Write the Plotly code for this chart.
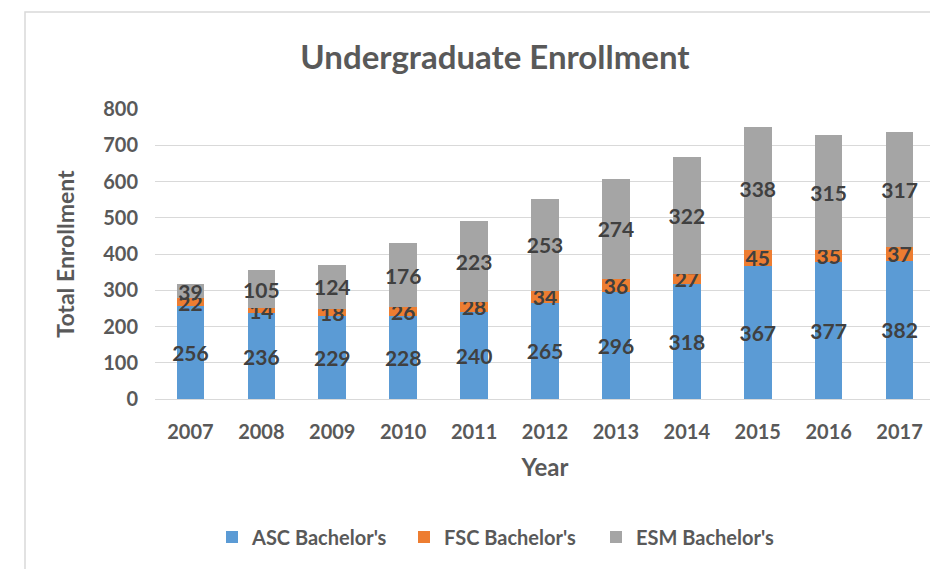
import plotly.graph_objects as go

years = ["2007", "2008", "2009", "2010", "2011", "2012", "2013", "2014", "2015", "2016", "2017"]
asc = [256, 236, 229, 228, 240, 265, 296, 318, 367, 377, 382]
fsc = [22, 14, 18, 26, 28, 34, 36, 27, 45, 35, 37]
esm = [39, 105, 124, 176, 223, 253, 274, 322, 338, 315, 317]

series = [
    ("ASC Bachelor's", asc, "#5B9BD5"),
    ("FSC Bachelor's", fsc, "#ED7D31"),
    ("ESM Bachelor's", esm, "#A5A5A5"),
]

FONT = "Lato, 'Open Sans', sans-serif"

fig = go.Figure()
for name, vals, color in series:
    fig.add_trace(go.Bar(
        x=years, y=vals, name=name,
        marker=dict(color=color, line=dict(width=0)),
        text=[str(v) for v in vals],
        textposition="inside",
        insidetextanchor="middle",
        constraintext="none",
        textangle=0,
        insidetextfont=dict(family=FONT, size=21, color="#404040", weight="bold"),
    ))

# page offset (body margin) compensation
OFF = 8
W, H = 938, 569
L, R, T, B = 155 - OFF, 11, 109 - OFF, 569 - (399 - OFF)
pw = W - L - R
ph = H - T - B

def px(x):
    return (x - OFF - L) / pw

def py(y):
    return (H - B - (y - OFF)) / ph

fig.update_layout(
    width=W, height=H,
    barmode="stack",
    bargap=0.61,
    paper_bgcolor="white",
    plot_bgcolor="white",
    margin=dict(l=L, r=R, t=T, b=B, autoexpand=False),
    font=dict(family=FONT, color="#595959"),
    title=dict(
        text="<b>Undergraduate Enrollment</b>",
        font=dict(family=FONT, size=33, color="#595959"),
        x=(495 - OFF) / W, xanchor="center",
        y=1 - (57 - OFF) / H, yanchor="middle",
    ),
    xaxis=dict(
        type="category",
        showgrid=False,
        showline=False,
        ticks="",
        tickfont=dict(family=FONT, size=20, color="#595959", weight="bold"),
        ticklabelstandoff=19,
        title=dict(text="<b>Year</b>", font=dict(family=FONT, size=24, color="#595959"), standoff=17),
    ),
    yaxis=dict(
        range=[0, 800],
        dtick=100,
        showgrid=True,
        gridcolor="#D9D9D9",
        gridwidth=1,
        zeroline=True,
        zerolinecolor="#D9D9D9",
        zerolinewidth=1,
        showline=False,
        ticks="",
        tickfont=dict(family=FONT, size=20, color="#595959", weight="bold"),
        ticklabelstandoff=16,
        title=dict(text="<b>Total Enrollment</b>", font=dict(family=FONT, size=23, color="#595959"), standoff=22),
    ),
    legend=dict(
        orientation="h",
        x=px(500), xanchor="center",
        y=py(537), yanchor="middle",
        font=dict(family=FONT, size=20, color="#595959", weight="bold"),
        entrywidth=147,
        traceorder="normal",
    ),
    shapes=[dict(
        type="rect", xref="paper", yref="paper",
        x0=px(25), x1=px(980), y0=py(620), y1=py(12),
        line=dict(color="#D9D9D9", width=1.5),
        fillcolor="rgba(0,0,0,0)", layer="below",
    )],
)

fig.write_html("out.html")
